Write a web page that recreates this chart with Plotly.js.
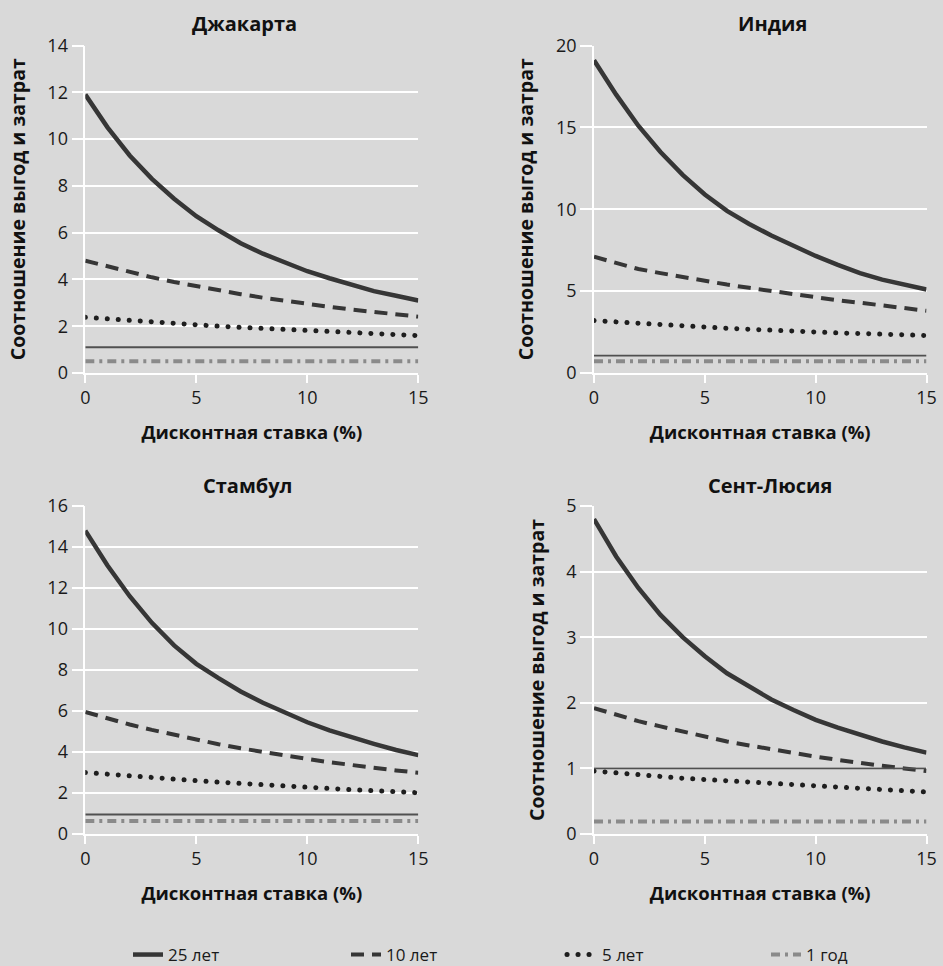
<!DOCTYPE html>
<html>
<head>
<meta charset="utf-8">
<script src="https://cdn.plot.ly/plotly-3.0.1.min.js"></script>
<style>
html,body{margin:0;padding:0;background:#d9d9d9;}
#chart{width:943px;height:966px;}
/* round dots for the 5-year series */
path.js-line[style*="0.1px"]{stroke-linecap:round;}
</style>
</head>
<body>
<div id="chart"></div>
<script>
// Discount rate (%)
const rate = [0,1,2,3,4,5,6,7,8,9,10,11,12,13,14,15];

// Series names
const seriesNames = ["25 лет", "10 лет", "5 лет", "1 год"];

// Panel titles
const panelTitles = ["Джакарта", "Индия", "Стамбул", "Сент-Люсия"];

// Jakarta
const jakarta25 = [11.9,10.5,9.3,8.3,7.45,6.7,6.1,5.55,5.1,4.7,4.35,4.05,3.75,3.5,3.3,3.1];
const jakarta10 = [4.8,4.55,4.31,4.09,3.89,3.71,3.53,3.37,3.22,3.08,2.95,2.83,2.71,2.6,2.5,2.41];
const jakarta5  = [2.38,2.31,2.24,2.18,2.12,2.06,2.0,1.95,1.9,1.85,1.8,1.76,1.72,1.67,1.63,1.6];
const jakarta1  = [0.5,0.5,0.5,0.5,0.5,0.5,0.5,0.5,0.5,0.5,0.5,0.5,0.5,0.5,0.5,0.5];

// India
const india25 = [19.1,17.0,15.1,13.5,12.1,10.9,9.9,9.1,8.4,7.75,7.15,6.6,6.1,5.7,5.4,5.1];
const india10 = [7.1,6.7,6.35,6.1,5.85,5.61,5.4,5.2,5.0,4.8,4.59,4.44,4.29,4.13,3.96,3.8];
const india5  = [3.2,3.11,3.03,2.95,2.87,2.8,2.73,2.67,2.6,2.55,2.49,2.45,2.41,2.37,2.33,2.29];
const india1  = [0.71,0.71,0.71,0.71,0.71,0.71,0.71,0.71,0.71,0.71,0.71,0.71,0.71,0.71,0.71,0.71];

// Istanbul
const istanbul25 = [14.8,13.1,11.6,10.3,9.2,8.3,7.6,6.95,6.4,5.9,5.45,5.05,4.7,4.4,4.1,3.85];
const istanbul10 = [5.95,5.64,5.34,5.08,4.83,4.59,4.38,4.18,3.99,3.82,3.66,3.5,3.36,3.23,3.1,2.99];
const istanbul5  = [3.0,2.91,2.83,2.75,2.67,2.6,2.53,2.46,2.4,2.33,2.27,2.22,2.16,2.11,2.06,2.01];
const istanbul1  = [0.63,0.63,0.63,0.63,0.63,0.63,0.63,0.63,0.63,0.63,0.63,0.63,0.63,0.63,0.63,0.63];

// Saint Lucia
const lucia25 = [4.8,4.23,3.75,3.34,3.0,2.71,2.45,2.24,2.05,1.89,1.74,1.62,1.51,1.41,1.32,1.24];
const lucia10 = [1.92,1.82,1.72,1.64,1.56,1.48,1.41,1.35,1.29,1.23,1.18,1.13,1.08,1.04,1.0,0.96];
const lucia5  = [0.96,0.93,0.9,0.88,0.85,0.83,0.81,0.79,0.77,0.75,0.73,0.71,0.69,0.68,0.66,0.64];
const lucia1  = [0.19,0.19,0.19,0.19,0.19,0.19,0.19,0.19,0.19,0.19,0.19,0.19,0.19,0.19,0.19,0.19];

// Break-even reference level drawn in each panel
const breakEven = [1.1, 1.06, 0.95, 1.0];

// Y axis ranges and tick steps
const yMax = [14, 20, 16, 5];
const yStep = [2, 5, 2, 1];

const xTitle = "Дисконтная ставка (%)";
const yTitle = "Соотношение выгод и затрат";

const panels = [
  [jakarta25, jakarta10, jakarta5, jakarta1],
  [india25, india10, india5, india1],
  [istanbul25, istanbul10, istanbul5, istanbul1],
  [lucia25, lucia10, lucia5, lucia1]
];

const styles = [
  {color: "#363636", width: 4.5, dash: "solid"},
  {color: "#363636", width: 4, dash: "13px,8px"},
  {color: "#1e1e1e", width: 5, dash: "0.1px,10.9px"},
  {color: "#8a8a8a", width: 4, dash: "9px,5px,3px,5px"}
];

const legendIds = ["legend", "legend2", "legend3", "legend4"];

const traces = [];
panels.forEach((series, p) => {
  const sfx = p === 0 ? "" : String(p + 1);
  series.forEach((vals, s) => {
    traces.push({
      x: rate, y: vals, type: "scatter", mode: "lines",
      name: seriesNames[s], legendgroup: seriesNames[s],
      legend: legendIds[s],
      showlegend: p === 0,
      xaxis: "x" + sfx, yaxis: "y" + sfx,
      line: {color: styles[s].color, width: styles[s].width, dash: styles[s].dash},
      hoverinfo: "x+y+name"
    });
  });
});

const W = 943, H = 966;
const xDom = [[85.3 / W, 418.3 / W], [594 / W, 926.5 / W]];
const yDom = [[1 - 373 / H, 1 - 45.5 / H], [1 - 834 / H, 1 - 506 / H]];

const font = "'Open Sans', 'Noto Sans', sans-serif";
const layout = {
  width: W, height: H,
  margin: {l: 0, r: 0, t: 0, b: 0, autoexpand: false},
  paper_bgcolor: "#d9d9d9",
  plot_bgcolor: "#d9d9d9",
  font: {family: font, size: 16, color: "#1a1a1a"},
  showlegend: true,
  shapes: [],
  annotations: []
};

// legend text starts (px) for the four entries
const legendTextX = [168, 386, 602, 806];
legendIds.forEach((id, i) => {
  layout[id] = {
    orientation: "h", x: (legendTextX[i] - 40) / W, xanchor: "left",
    y: 1 - 955 / H, yanchor: "middle",
    font: {family: font, size: 17, color: "#1a1a1a"},
    bgcolor: "rgba(0,0,0,0)"
  };
});

const titlePos = [[244, 23], [772, 23], [248, 485], [770, 485]];

for (let p = 0; p < 4; p++) {
  const sfx = p === 0 ? "" : String(p + 1);
  const col = p % 2, row = Math.floor(p / 2);
  layout["xaxis" + sfx] = {
    domain: xDom[col], anchor: "y" + sfx,
    range: [rate[0], rate[rate.length - 1]],
    tickvals: [0, 5, 10, 15],
    showgrid: false, zeroline: false,
    showline: true, linecolor: "#ffffff", linewidth: 1.5,
    ticks: "outside", ticklen: 8, tickwidth: 1.5, tickcolor: "#ffffff",
    tickfont: {family: font, size: 18, color: "#1a1a1a"},
    title: {text: "<b>" + xTitle + "</b>", font: {family: font, size: 18.5, color: "#111"}, standoff: 18},
    fixedrange: true
  };
  layout["yaxis" + sfx] = {
    domain: yDom[row], anchor: "x" + sfx,
    range: [0, yMax[p]], dtick: yStep[p], tick0: 0,
    showgrid: true, gridcolor: "#ffffff", gridwidth: 1.5,
    zeroline: false,
    showline: true, linecolor: "#ffffff", linewidth: 1.5,
    ticks: "outside", ticklen: 12, tickwidth: 1.5, tickcolor: "#ffffff",
    tickfont: {family: font, size: 18, color: "#1a1a1a"},
    title: p === 2 ? {text: ""} : {text: "<b>" + yTitle + "</b>", font: {family: font, size: 19.5, color: "#111"}, standoff: 17},
    fixedrange: true
  };
  layout.shapes.push({
    type: "line", xref: "x" + sfx, yref: "y" + sfx,
    x0: rate[0], x1: rate[rate.length - 1], y0: breakEven[p], y1: breakEven[p],
    line: {color: "#505050", width: 1.8}, layer: "above"
  });
  layout.annotations.push({
    text: "<b>" + panelTitles[p] + "</b>", xref: "paper", yref: "paper",
    x: titlePos[p][0] / W, y: 1 - titlePos[p][1] / H, xanchor: "center", yanchor: "middle",
    showarrow: false, font: {family: font, size: 20, color: "#111"}
  });
}

Plotly.newPlot("chart", traces, layout, {displayModeBar: false, responsive: false});
</script>
</body>
</html>
